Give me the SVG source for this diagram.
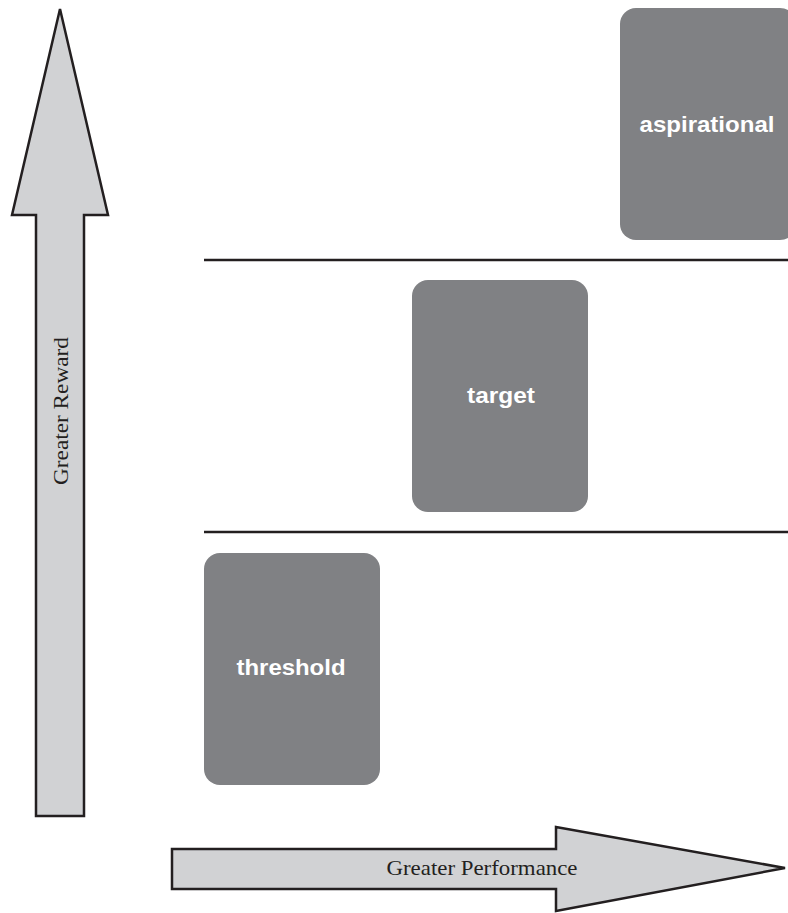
<svg xmlns="http://www.w3.org/2000/svg" width="788" height="913" viewBox="0 0 788 913">
<style>
.arrow{fill:#d1d2d4;stroke:#231f20;stroke-width:2.5;stroke-linejoin:miter}
.box{fill:#808184}
.btxt{fill:#ffffff;font-family:"Liberation Sans",Arial,sans-serif;font-weight:bold;font-size:22px;text-anchor:middle;dominant-baseline:central}
.atxt{fill:#231f20;font-family:"Liberation Serif","Times New Roman",serif;font-size:21px;text-anchor:middle;dominant-baseline:central}
.sep{stroke:#231f20;stroke-width:2.5}
</style>
<rect width="788" height="913" fill="#ffffff"/>
<g id="connectors">
<line class="sep" x1="204" y1="260" x2="788" y2="260"/>
<line class="sep" x1="204" y1="532" x2="788" y2="532"/>
</g>
<g id="reward-arrow">
<polygon class="arrow" points="60,9 108,215 84,215 84,816 36,816 36,215 12,215"/>
<text class="atxt" transform="translate(61,411) rotate(-90)" textLength="148" lengthAdjust="spacingAndGlyphs">Greater Reward</text>
</g>
<g id="performance-arrow">
<polygon class="arrow" points="172,849 556,849 556,827 785,868 556,911 556,889 172,889"/>
<text class="atxt" x="482" y="868" textLength="191" lengthAdjust="spacingAndGlyphs">Greater Performance</text>
</g>
<g id="aspirational">
<rect class="box" x="620" y="8" width="176" height="232" rx="16"/>
<text class="btxt" x="707" y="124" textLength="135" lengthAdjust="spacingAndGlyphs">aspirational</text>
</g>
<g id="target">
<rect class="box" x="412" y="280" width="176" height="232" rx="16"/>
<text class="btxt" x="501" y="395" textLength="68" lengthAdjust="spacingAndGlyphs">target</text>
</g>
<g id="threshold">
<rect class="box" x="204" y="553" width="176" height="232" rx="16"/>
<text class="btxt" x="291" y="667" textLength="109" lengthAdjust="spacingAndGlyphs">threshold</text>
</g>
</svg>
